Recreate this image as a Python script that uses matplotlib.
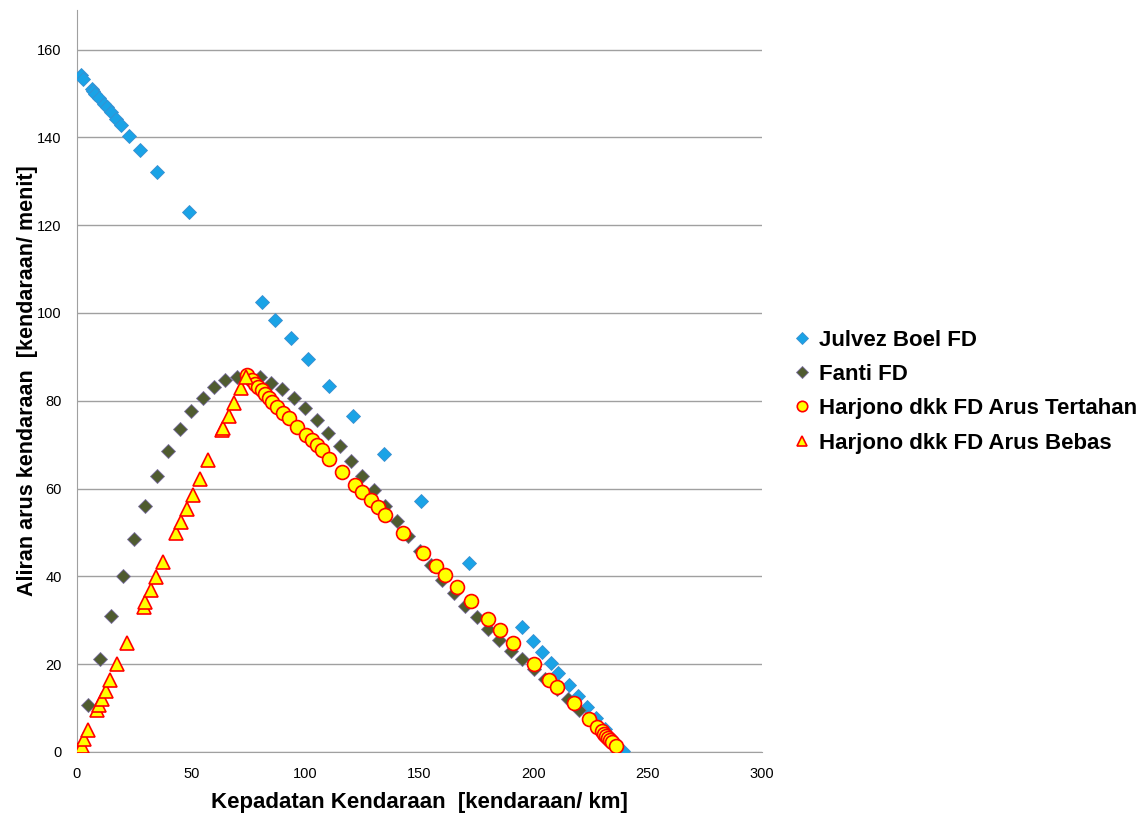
import matplotlib
matplotlib.use('Agg')
import matplotlib.pyplot as plt

# Julvez Boel FD
jb_x = [1.6, 2.8, 6.4, 7.2, 7.9, 9.6, 11.8, 13.0, 14.7, 17.1, 19.1, 22.6, 27.6, 35.2, 49.2,
        81.0, 86.7, 93.7, 101.2, 110.4, 120.9, 134.5, 150.7, 171.8, 194.8, 199.8, 203.8,
        207.6, 210.8, 215.3, 219.3, 223.2, 227.3, 231.2, 234.9, 239.0]
jb_y = [154.2, 153.3, 151.0, 150.5, 149.9, 149.0, 147.6, 146.9, 145.7, 144.2, 142.7, 140.3,
        137.2, 132.2, 123.1, 102.4, 98.5, 94.2, 89.4, 83.3, 76.5, 67.8, 57.1, 43.1, 28.5,
        25.2, 22.7, 20.2, 18.0, 15.2, 12.7, 10.2, 7.8, 5.2, 2.7, 0.3]

# Fanti FD
fanti_x = [0, 5, 10, 15, 20, 25, 30, 35, 40, 45, 50, 55, 60, 65, 70, 75, 80, 85, 90, 95,
           100, 105, 110, 115, 120, 125, 130, 135, 140, 145, 150, 155, 160, 165, 170, 175,
           180, 185, 190, 195, 200, 205, 210, 215, 220, 225, 230, 235]
fanti_y = [0, 10.7, 21.1, 30.9, 40.1, 48.4, 56.1, 62.8, 68.6, 73.5, 77.6, 80.7, 83.1, 84.7,
           85.4, 85.6, 85.3, 84.1, 82.6, 80.6, 78.3, 75.6, 72.6, 69.6, 66.2, 62.9, 59.6,
           56.1, 52.6, 49.2, 45.8, 42.6, 39.1, 36.1, 33.2, 30.7, 28.1, 25.5, 23.1, 21.2,
           18.9, 16.6, 14.3, 12.0, 9.6, 7.3, 4.8, 2.3]

# Harjono dkk FD Arus Tertahan
ter_x = [74.3, 76.5, 78.0, 79.4, 80.9, 82.3, 84.1, 85.5, 87.7, 90.4, 92.8, 96.5, 100.3,
         102.8, 105.0, 107.2, 110.2, 116.0, 121.8, 124.9, 128.6, 131.7, 135.0, 142.9, 151.4,
         157.2, 161.3, 166.5, 172.6, 180.1, 185.4, 190.8, 200.3, 206.9, 210.2, 217.8, 224.4,
         227.6, 229.8, 231.0, 231.8, 232.6, 233.4, 234.2, 236.1]
ter_y = [85.8, 84.7, 83.9, 83.1, 82.4, 81.6, 80.7, 79.7, 78.6, 77.3, 76.1, 74.0, 72.1, 71.0,
         69.9, 68.7, 66.8, 63.7, 60.9, 59.2, 57.4, 55.7, 53.9, 49.8, 45.4, 42.3, 40.2, 37.5,
         34.4, 30.4, 27.8, 24.9, 20.0, 16.5, 14.7, 11.1, 7.5, 5.8, 4.8, 4.1, 3.6, 3.1, 2.7,
         2.3, 1.4]

# Harjono dkk FD Arus Bebas
beb_x = [0.6, 1.2, 2.0, 3.0, 4.7, 8.9, 9.8, 11.1, 12.7, 14.6, 17.5, 21.9, 29.2, 29.9, 32.3,
         34.6, 37.7, 43.2, 45.5, 48.0, 50.9, 54.0, 57.5, 63.5, 63.8, 66.6, 68.8, 71.8, 73.9]
beb_y = [0.5, 1.0, 1.4, 2.9, 5.0, 9.6, 10.7, 12.0, 14.0, 16.5, 20.0, 24.9, 33.1, 34.2, 36.9,
         39.8, 43.3, 49.8, 52.4, 55.3, 58.5, 62.2, 66.5, 73.3, 73.8, 76.5, 79.5, 82.9, 85.4]

x_ticks = [0, 50, 100, 150, 200, 250, 300]
y_ticks = [0, 20, 40, 60, 80, 100, 120, 140, 160]

plt.rcParams['font.family'] = ['Liberation Sans', 'DejaVu Sans']

fig = plt.figure(figsize=(11.44, 8.14), dpi=100)
ax = fig.add_axes([0.0673, 0.0762, 0.5988, 0.9115])

ax.plot(jb_x, jb_y, 'D', ms=7.5, color='#1aa3e6', mec='#3a8fd0', mew=0.6,
        label='Julvez Boel FD', zorder=3)
ax.plot(fanti_x, fanti_y, 'D', ms=7.5, color='#4f5b30', mec='#7b6fa0', mew=0.6,
        label='Fanti FD', zorder=3)
ax.plot(ter_x, ter_y, 'o', ms=10, color='#ffff00', mec='#ff0000', mew=1.2,
        label='Harjono dkk FD Arus Tertahan', zorder=4)
ax.plot(beb_x, beb_y, '^', ms=10.5, color='#ffff00', mec='#ff0000', mew=1.2,
        label='Harjono dkk FD Arus Bebas', zorder=5)

ax.set_xlim(0, 300)
ax.set_ylim(0, 169)
ax.set_xticks(x_ticks)
ax.set_yticks(y_ticks)
ax.yaxis.grid(True, color='#a0a0a0', lw=1)
ax.set_axisbelow(True)
for s in ['top', 'right']:
    ax.spines[s].set_visible(False)
for s in ['left', 'bottom']:
    ax.spines[s].set_color('#a0a0a0')
ax.tick_params(length=0, labelsize=10.5)
ax.tick_params(axis='y', pad=11)
ax.tick_params(axis='x', pad=11)
ax.set_xlabel('Kepadatan Kendaraan  [kendaraan/ km]', fontsize=16, fontweight='bold', labelpad=8)
ax.set_ylabel('Aliran arus kendaraan  [kendaraan/ menit]', fontsize=15.5, fontweight='bold')
ax.yaxis.set_label_coords(-0.0569, 0.5)

leg = fig.legend(loc='center left', bbox_to_anchor=(0.6747, 0.519), frameon=False,
                 prop={'size': 16, 'weight': 'bold'}, handletextpad=0.3,
                 labelspacing=0.6, handlelength=0.9, markerscale=0.75)

plt.savefig('out.png', dpi=100)
